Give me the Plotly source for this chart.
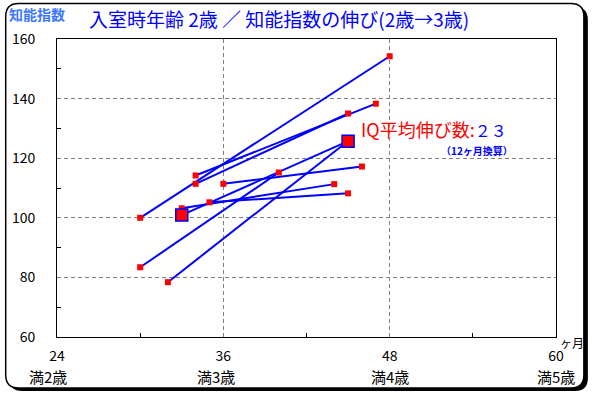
import plotly.graph_objects as go

# ---------------- data ----------------
start_month = [30, 30, 32, 33, 34, 34, 35, 36]
start_iq = [100.0, 83.4, 78.4, 103.2, 114.2, 111.4, 105.2, 111.4]
end_month = [48, 40, 45, 44, 47, 45, 45, 46]
end_iq = [154.2, 115.2, 125.8, 111.3, 138.3, 135.0, 108.2, 117.2]

avg_month = [33, 45]
avg_iq = [100.9, 125.7]

x_tickvals = [24, 36, 48, 60]
x_ticktext = ["24", "36", "48", "60"]
age_labels = ["満2歳", "満3歳", "満4歳", "満5歳"]
x_minor = [30, 42, 54]
y_tickvals = [60, 80, 100, 120, 140, 160]
y_minor = [70, 90, 110, 130, 150]

title_text = "入室時年齢 2歳 ／ 知能指数の伸び(2歳→3歳)"
y_title = "知能指数"
x_unit = "ヶ月"
iq_label = "IQ平均伸び数:"
iq_value = "２３"
iq_note = "（12ヶ月換算）"

# ---------------- layout geometry ----------------
W, H = 592, 395
L, R, T, B = 55, 36, 39, 58
PW = W - L - R
PH = H - T - B
FONT = "Noto Sans CJK JP"
AGE_SHIFT = [-9, -7, 0, 0]   # label nudges (styling only)


def px(x):
    return (x - L) / PW


def py(y):
    return (H - B - y) / PH


def rounded_rect(x0, y0, x1, y1, r):
    p = [
        ("M", [(x0 + r, y0)]),
        ("L", [(x1 - r, y0)]),
        ("Q", [(x1, y0), (x1, y0 + r)]),
        ("L", [(x1, y1 - r)]),
        ("Q", [(x1, y1), (x1 - r, y1)]),
        ("L", [(x0 + r, y1)]),
        ("Q", [(x0, y1), (x0, y1 - r)]),
        ("L", [(x0, y0 + r)]),
        ("Q", [(x0, y0), (x0 + r, y0)]),
    ]
    s = ""
    for cmd, pts in p:
        s += cmd + " " + " ".join(f"{px(a):.5f},{py(b):.5f}" for a, b in pts) + " "
    return s + "Z"


# ---------------- traces ----------------
lx, ly = [], []
for sm, si, em, ei in zip(start_month, start_iq, end_month, end_iq):
    lx += [sm, em, None]
    ly += [si, ei, None]

fig = go.Figure()
fig.add_trace(go.Scatter(x=lx, y=ly, mode="lines",
                         line=dict(color="#0000FF", width=2), hoverinfo="skip"))
fig.add_trace(go.Scatter(x=avg_month, y=avg_iq, mode="lines",
                         line=dict(color="#0000FF", width=2), hoverinfo="skip"))
fig.add_trace(go.Scatter(x=start_month + end_month, y=start_iq + end_iq, mode="markers",
                         marker=dict(symbol="square", size=6, color="#FF0000", line=dict(width=0))))
fig.add_trace(go.Scatter(x=avg_month, y=avg_iq, mode="markers",
                         marker=dict(symbol="square", size=12, color="#FF0000",
                                     line=dict(color="#0000FF", width=1.5))))

# ---------------- frame ----------------
shapes = [
    dict(type="path", path=rounded_rect(7, 7, 588, 391, 13), xref="paper", yref="paper",
         fillcolor="black", line=dict(width=0), layer="below"),
    dict(type="path", path=rounded_rect(3.5, 3.5, 584, 388, 13), xref="paper", yref="paper",
         fillcolor="white", line=dict(color="black", width=1.5), layer="below"),
]

annotations = [
    dict(text=title_text, x=px(278), y=py(18), xref="paper", yref="paper",
         xanchor="center", yanchor="middle", showarrow=False,
         font=dict(family=FONT, size=19, color="#0000FF")),
    dict(text="<b>" + y_title + "</b>", x=px(5), y=py(14), xref="paper", yref="paper",
         xanchor="left", yanchor="middle", showarrow=False,
         font=dict(family=FONT, size=14, color="#3C78FF")),
    dict(text=(f"<span style='color:#FF0000'>{iq_label}</span>"
               f"<span style='color:#0000FF;font-size:16px'>{iq_value}</span>"),
         x=px(358), y=py(129), xref="paper", yref="paper",
         xanchor="left", yanchor="middle", showarrow=False,
         font=dict(family=FONT, size=18, color="#FF0000")),
    dict(text="<b>" + iq_note + "</b>", x=px(477), y=py(150), xref="paper", yref="paper",
         xanchor="center", yanchor="middle", showarrow=False,
         font=dict(family=FONT, size=10, color="#0000FF")),
    dict(text=x_unit, x=px(572), y=py(342), xref="paper", yref="paper",
         xanchor="center", yanchor="middle", showarrow=False,
         font=dict(family=FONT, size=12, color="black")),
]
for xv, lab, sh in zip(x_tickvals, age_labels, AGE_SHIFT):
    annotations.append(dict(text=lab, x=xv, y=py(376), xref="x", yref="paper", xshift=sh,
                            xanchor="center", yanchor="middle", showarrow=False,
                            font=dict(family=FONT, size=15, color="black")))

fig.update_layout(
    width=W, height=H,
    margin=dict(l=L, r=R, t=T, b=B, pad=0),
    paper_bgcolor="white", plot_bgcolor="rgba(0,0,0,0)",
    showlegend=False,
    shapes=shapes,
    annotations=annotations,
    xaxis=dict(range=[24, 60], tickmode="array", tickvals=x_tickvals, ticktext=x_ticktext,
               showgrid=True, gridcolor="#808080", griddash="4px,3px", gridwidth=1,
               zeroline=False, showline=True, mirror=True, linecolor="black", linewidth=1,
               ticks="", ticklabelstandoff=6,
               tickfont=dict(family=FONT, size=14, color="black"),
               minor=dict(tickmode="array", tickvals=x_minor, ticks="inside", ticklen=4,
                          tickcolor="black", tickwidth=1, showgrid=False)),
    yaxis=dict(range=[60, 160], tickmode="array", tickvals=y_tickvals,
               showgrid=True, gridcolor="#808080", griddash="4px,3px", gridwidth=1,
               zeroline=False, showline=True, mirror=True, linecolor="black", linewidth=1,
               ticks="", ticklabelstandoff=18,
               tickfont=dict(family=FONT, size=14, color="black"),
               minor=dict(tickmode="array", tickvals=y_minor, ticks="inside", ticklen=4,
                          tickcolor="black", tickwidth=1, showgrid=False)),
)

fig.write_html("out.html", config={"displayModeBar": False},
               post_script="document.body.style.margin='0px';")
